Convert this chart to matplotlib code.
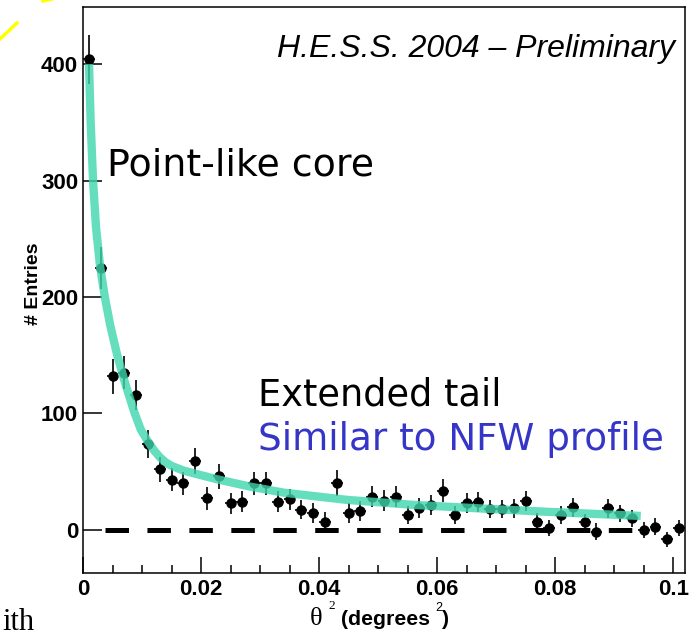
import matplotlib
matplotlib.use("Agg")
import matplotlib.pyplot as plt
from matplotlib.lines import Line2D
from matplotlib.ticker import FixedLocator, MultipleLocator
import numpy as np

plt.rcParams["lines.scale_dashes"] = False

# theta^2 histogram (background-subtracted excess), bins of 0.002 deg^2
bin_width = 0.002
counts = [404, 225, 132, 135, 116, 74, 52, 43, 40, 59,
          27, 46, 23, 24, 40, 40, 24, 26.5, 17.5, 14.3,
          7, 40.3, 14.6, 16.4, 28.6, 25.2, 28.6, 12.9, 18.6, 21.5,
          33.8, 12.9, 22.9, 24.3, 17.8, 17.8, 18.6, 24.9, 7.1, 1.8,
          12.9, 19.5, 6.6, -1.4, 18.6, 14.3, 10, 0, 2.9, -8, 1.4]
errors = [21, 18, 15, 14, 13, 12, 11, 10, 10, 11,
          9.5, 10.5, 9, 9, 10, 10, 9, 9, 8.5, 8.5,
          8, 11, 8.5, 8.5, 9, 9, 9, 8, 8.5, 8.5,
          9.5, 8, 8.5, 8.5, 8, 8, 8, 8.5, 7.5, 7,
          8, 8, 7, 7, 8, 7.5, 7.5, 7, 7, 6.5, 7]

# fitted profile (point-like core + extended tail)
fit_x = [0.00102, 0.0013, 0.0017, 0.0022, 0.0029, 0.0037, 0.0046, 0.0058,
         0.0072, 0.0087, 0.0098, 0.0110, 0.0120, 0.0130, 0.0140, 0.0150,
         0.0170, 0.0190, 0.0227, 0.0283, 0.0340, 0.0447, 0.0560, 0.0667,
         0.0780, 0.0945]
fit_y = [400, 350, 300, 260, 226, 200, 176, 150,
         125, 101, 86, 76, 68.5, 62.5, 58, 55,
         51, 48.3, 43.5, 37.2, 32, 25.8, 21.5, 18.6,
         15.7, 12]

# zero level
zero_x = [0.00373, 0.0932]
zero_y = [0, 0]

xtick_values = [0, 0.02, 0.04, 0.06, 0.08, 0.1]
xtick_labels = ["0", "0.02", "0.04", "0.06", "0.08", "0.1"]
ytick_values = [0, 100, 200, 300, 400]
ytick_labels = ["0", "100", "200", "300", "400"]

W, H = 690, 638
fig = plt.figure(figsize=(W / 100, H / 100), dpi=100)


def fx(px):
    return px / W


def fy(py):
    return 1 - py / H


ax = fig.add_axes([fx(83), fy(573), fx(685) - fx(83), fy(7) - fy(573)])

theta2 = (np.arange(len(counts)) + 0.5) * bin_width

ax.errorbar(theta2, counts, yerr=errors, xerr=bin_width / 2, fmt="o",
            color="black", ms=6.5, elinewidth=1.2, capsize=0, zorder=3)
ax.plot(fit_x, fit_y, color="#3fd6ad", lw=6, alpha=0.8,
        solid_capstyle="butt", solid_joinstyle="round", zorder=4)
ax.plot(zero_x, zero_y, color="black", lw=3.6, dashes=(16.9, 13.3),
        dash_capstyle="butt", zorder=2)

ax.set_xlim(0, 0.102)
ax.set_ylim(-37, 449)

sans = ["Liberation Sans", "DejaVu Sans"]
tick_font = dict(family=sans, weight="bold", size=16)
ax.xaxis.set_major_locator(FixedLocator(xtick_values))
ax.xaxis.set_minor_locator(MultipleLocator(0.005))
ax.set_xticklabels(xtick_labels, **tick_font)
ax.yaxis.set_major_locator(FixedLocator(ytick_values))
ax.set_yticklabels(ytick_labels, **tick_font)
ax.tick_params(axis="x", which="major", direction="in", length=11.5,
               width=1.1, pad=4.5, top=False)
ax.tick_params(axis="x", which="minor", direction="in", length=5.8,
               width=1.1, top=False)
ax.tick_params(axis="y", which="major", direction="in", length=13.7,
               width=1.1, pad=3.5, right=False)
for s in ax.spines.values():
    s.set_linewidth(1.1)

# header
fig.text(fx(675), fy(57), "H.E.S.S. 2004 \u2013 Preliminary",
         family=sans, style="italic", size=23, ha="right", va="baseline")

# annotations
fig.text(fx(107), fy(176), "Point-like core", family="DejaVu Sans",
         size=27.3, color="black", ha="left", va="baseline")
fig.text(fx(258), fy(405), "Extended tail", family="DejaVu Sans",
         size=26.5, color="black", ha="left", va="baseline")
fig.text(fx(258), fy(450), "Similar to NFW profile", family="DejaVu Sans",
         size=26.8, color="#3535c8", ha="left", va="baseline")

# axis titles
fig.text(fx(34), fy(284), "# Entries", family=sans, weight="bold",
         size=14, rotation=90, ha="center", va="center")
fig.text(fx(310), fy(625), "\u03b8", family="Liberation Serif", size=19,
         ha="left", va="baseline")
fig.text(fx(328), fy(609), "2", family="Liberation Serif", size=9.5,
         ha="left", va="baseline")
fig.text(fx(341), fy(625), "(degrees", family=sans, weight="bold",
         size=15.3, ha="left", va="baseline")
fig.text(fx(435), fy(611), "2", family=sans, size=9,
         ha="left", va="baseline")
fig.text(fx(442), fy(625), ")", family=sans, weight="bold",
         size=15.3, ha="left", va="baseline")

# slide decoration around the figure
fig.add_artist(Line2D([fx(0), fx(17)], [fy(39), fy(23)], color="#ffff00",
                      lw=2.5, transform=fig.transFigure))
fig.add_artist(Line2D([fx(43), fx(52)], [fy(1), fy(-1)], color="#ffff00",
                      lw=2.5, transform=fig.transFigure))
fig.text(fx(2), fy(630), "ith", family="Liberation Serif", size=22,
         ha="left", va="baseline")

fig.savefig("out.png", dpi=100)
